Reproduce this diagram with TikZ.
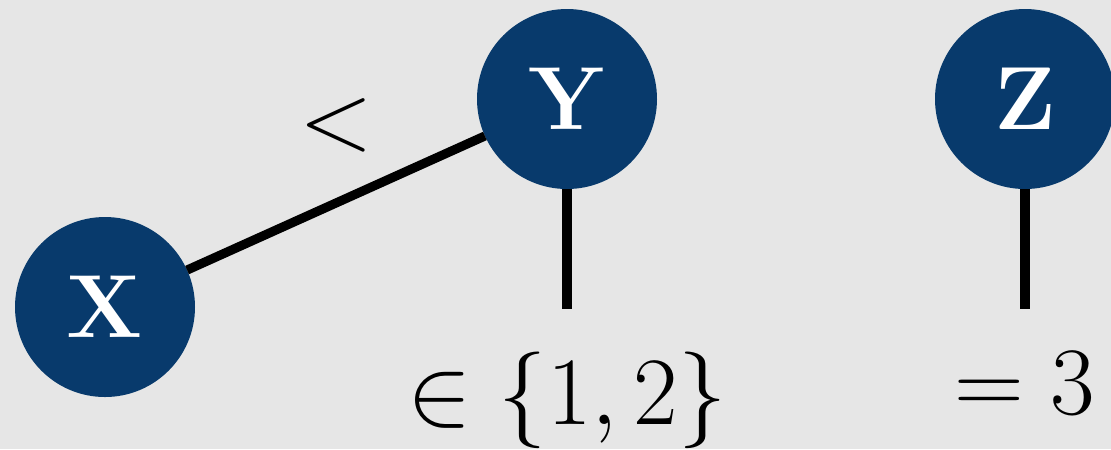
\RequirePackage{fix-cm}
\documentclass[tikz,border=0pt]{standalone}
\usepackage{tikz}
\usetikzlibrary{positioning}

\definecolor{canvasgray}{RGB}{230,230,230}
\definecolor{varblue}{RGB}{8,58,108}

\begin{document}
\begin{tikzpicture}[
  font=\fontsize{27.5}{33}\selectfont,
  % variable circles: radius set via minimum size
  var/.style={
    circle, fill=varblue, text=white, font=\fontsize{25.5}{31}\selectfont\bfseries,
    minimum size=1.8cm, inner sep=0pt, outer sep=0pt
  },
  link/.style={line width=2.6pt, black},
  val/.style={inner sep=0pt, outer ysep=0.43cm},
]

% ---------------------------------------------------------------
% Canvas: 11.11 x 4.49, light gray background
% ---------------------------------------------------------------
\useasboundingbox (0,0) rectangle (11.11,4.49);
\fill[canvasgray] (0,0) rectangle (11.11,4.49);

% --- Variables ---
\node[var] (X) at (1.05, 1.42) {X};
\node[var] (Y) at (5.67, 3.50) {Y};
\node[var] (Z) at (10.25, 3.50) {Z};

% --- Domains ---
\node[val, below=1.2cm of Y, anchor=north] (ydom) {$\in\{1,2\}$};
\node[val, below=1.2cm of Z, anchor=north] (zdom) {$=3$};

% ---------------------------------------------------------------
% Constraints
% ---------------------------------------------------------------
\draw[link] (X) -- node[midway, yshift=0.78cm] (lt) {$<$} (Y);
\draw[link] (Y) -- (ydom);
\draw[link] (Z) -- (zdom);

\end{tikzpicture}
\end{document}
